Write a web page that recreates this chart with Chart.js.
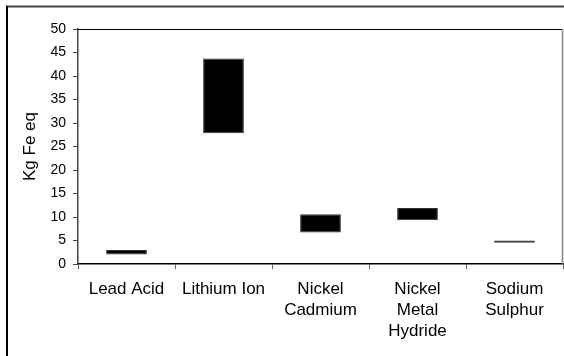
<!DOCTYPE html>
<html>
<head>
<meta charset="utf-8">
<script src="https://cdn.jsdelivr.net/npm/chart.js@4/dist/chart.umd.min.js"></script>
<style>
  body { margin: 0; background: #fff; }
</style>
</head>
<body>
<canvas id="grafico" width="564" height="356"></canvas>
<script>
// categorias e valores (min / max de cada bateria)
const categorias = ['Lead Acid', 'Lithium Ion', ['Nickel', 'Cadmium'], ['Nickel', 'Metal', 'Hydride'], ['Sodium', 'Sulphur']];
const valoresMin = [2.0, 27.8, 6.7, 9.3, 4.5];
const valoresMax = [3.0, 43.7, 10.6, 11.9, 5.0];
const eixoY = { min: 0, max: 50, passo: 5 };

const fonte = 'Liberation Sans, Arial, sans-serif';

// moldura externa e caixa da area do grafico
const moldura = {
  id: 'moldura',
  afterDraw(chart) {
    const ctx = chart.ctx;
    const a = chart.chartArea;
    ctx.save();
    ctx.lineWidth = 2;
    ctx.strokeStyle = '#444';
    ctx.beginPath(); ctx.moveTo(6, 6.5); ctx.lineTo(564, 6.5); ctx.stroke();
    ctx.strokeStyle = '#000';
    ctx.beginPath(); ctx.moveTo(7, 6); ctx.lineTo(7, 356); ctx.stroke();
    ctx.lineWidth = 1;
    ctx.strokeStyle = '#000';
    ctx.beginPath(); ctx.moveTo(a.left, a.top + 0.5); ctx.lineTo(a.right, a.top + 0.5); ctx.stroke();
    ctx.lineWidth = 1.5;
    ctx.strokeStyle = '#888';
    ctx.beginPath(); ctx.moveTo(a.right - 0.5, a.top); ctx.lineTo(a.right - 0.5, a.bottom); ctx.stroke();
    ctx.restore();
  }
};

new Chart(document.getElementById('grafico'), {
  type: 'bar',
  data: {
    labels: categorias,
    datasets: [{
      data: valoresMin.map((v, i) => [v, valoresMax[i]]),
      backgroundColor: '#000',
      borderColor: '#333',
      borderWidth: 1,
      borderSkipped: false,
      categoryPercentage: 1,
      barPercentage: 0.42
    }]
  },
  options: {
    responsive: false,
    animation: false,
    layout: { padding: { top: 29, right: 1, left: 0, bottom: 0 } },
    plugins: { legend: { display: false }, tooltip: { enabled: false } },
    scales: {
      x: {
        grid: { drawOnChartArea: false, tickLength: 5, color: '#666', offset: true },
        border: { color: '#000', width: 1.5 },
        ticks: { color: '#000', padding: 10, maxRotation: 0, autoSkip: false,
                 font: { family: fonte, size: 17, lineHeight: 1.22 } },
        afterFit(s) { s.height = 92; }
      },
      y: {
        min: eixoY.min,
        max: eixoY.max,
        grid: { drawOnChartArea: false, tickLength: 5, color: '#444' },
        border: { color: '#444', width: 1.5 },
        ticks: { stepSize: eixoY.passo, color: '#000', padding: 7,
                 font: { family: fonte, size: 14 } },
        title: { display: true, text: 'Kg Fe eq', color: '#000',
                 padding: { top: 20, bottom: 0 },
                 font: { family: fonte, size: 17 } },
        afterFit(s) { s.width = 78; }
      }
    }
  },
  plugins: [moldura]
});
</script>
</body>
</html>
